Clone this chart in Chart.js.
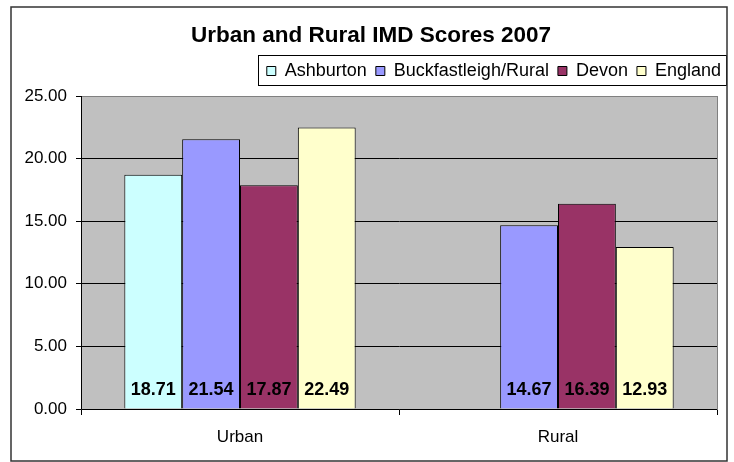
<!DOCTYPE html>
<html>
<head>
<meta charset="utf-8">
<script src="https://cdn.jsdelivr.net/npm/chart.js@4.4.0/dist/chart.umd.min.js"></script>
<style>
  html, body { margin: 0; padding: 0; background: #fff; }
  #wrap { width: 734px; height: 462px; }
</style>
</head>
<body>
<div id="wrap"><canvas id="mycanvas"></canvas></div>
<script>
var areas = ['Urban', 'Rural'];
var ashburton = [18.71, null];
var buckfastleigh = [21.54, 14.67];
var devon = [17.87, 16.39];
var england = [22.49, 12.93];
var yTicks = [0, 5, 10, 15, 20, 25];

Chart.defaults.font.family = "'Liberation Sans', Arial, sans-serif";
Chart.defaults.color = '#000';

// grey plot area, outer frame, legend box and value labels
var excelLook = {
  id: 'excelLook',
  beforeDraw: function(chart) {
    var c = chart.ctx, a = chart.chartArea;
    c.save();
    c.fillStyle = '#fff';
    c.fillRect(0, 0, chart.width, chart.height);
    c.fillStyle = '#c0c0c0';
    c.fillRect(a.left, a.top, a.right - a.left, a.bottom - a.top);
    c.restore();
  },
  beforeDatasetsDraw: function(chart) {
    var c = chart.ctx, a = chart.chartArea;
    c.save();
    c.strokeStyle = '#808080';
    c.lineWidth = 1;
    c.strokeRect(a.left + 0.5, a.top + 0.5, a.right - a.left, a.bottom - a.top);
    c.strokeStyle = '#000';
    c.beginPath();
    c.moveTo(a.left + 0.5, a.top);
    c.lineTo(a.left + 0.5, a.bottom + 0.5);
    c.lineTo(a.right, a.bottom + 0.5);
    c.stroke();
    c.restore();
  },
  afterDatasetsDraw: function(chart) {
    var c = chart.ctx;
    var base = chart.scales.y.getPixelForValue(0);
    c.save();
    c.font = "bold 18px 'Liberation Sans', Arial, sans-serif";
    c.fillStyle = '#000';
    c.textAlign = 'center';
    c.textBaseline = 'middle';
    chart.data.datasets.forEach(function(ds, i) {
      var meta = chart.getDatasetMeta(i);
      meta.data.forEach(function(bar, j) {
        var v = ds.data[j];
        if (v === null) return;
        c.fillText(v.toFixed(2), bar.x, base - 19);
      });
    });
    c.restore();
  },
  afterDraw: function(chart) {
    var c = chart.ctx;
    var hb = chart.legend.legendHitBoxes;
    var first = hb[0];
    var cy = Math.round(first.top + first.height / 2);
    var left = Math.round(first.left) - 8.5;
    c.save();
    c.strokeStyle = '#000';
    c.lineWidth = 1;
    c.strokeRect(left, cy - 15.5, 726.5 - left, 30);
    c.strokeStyle = '#333';
    c.lineWidth = 1.5;
    c.strokeRect(11, 7, 716, 454);
    c.restore();
  }
};

var chartdata = {
  labels: areas,
  datasets: [
    { label: 'Ashburton', data: ashburton, backgroundColor: '#ccffff', borderColor: '#000', borderWidth: 1 },
    { label: 'Buckfastleigh/Rural', data: buckfastleigh, backgroundColor: '#9999ff', borderColor: '#000', borderWidth: 1 },
    { label: 'Devon', data: devon, backgroundColor: '#993366', borderColor: '#000', borderWidth: 1 },
    { label: 'England', data: england, backgroundColor: '#ffffcc', borderColor: '#000', borderWidth: 1 }
  ]
};

var ctx = document.getElementById('mycanvas');

var myBarChart = new Chart(ctx, {
  type: 'bar',
  data: chartdata,
  plugins: [excelLook],
  options: {
    responsive: true,
    maintainAspectRatio: false,
    animation: false,
    datasets: {
      bar: { categoryPercentage: 0.7275, barPercentage: 1 }
    },
    layout: { padding: { top: 8, left: 12, right: 4, bottom: 13 } },
    plugins: {
      title: {
        display: true,
        text: 'Urban and Rural IMD Scores 2007',
        font: { size: 22.5, weight: 'bold' },
        padding: { top: 14, bottom: 4 }
      },
      subtitle: {
        display: true,
        text: '',
        weight: 100,
        font: { size: 1, lineHeight: 1 },
        padding: { top: 4, bottom: 1 }
      },
      legend: {
        position: 'top',
        align: 'end',
        labels: {
          boxWidth: 9,
          boxHeight: 9,
          padding: 9,
          font: { size: 18 },
          color: '#000'
        }
      },
      tooltip: { enabled: false }
    },
    scales: {
      x: {
        grid: { drawOnChartArea: false, color: '#000', tickLength: 6, offset: true },
        border: { color: '#000' },
        ticks: { font: { size: 17 }, padding: 12 },
        afterFit: function(s) { s.height = 40; }
      },
      y: {
        min: yTicks[0],
        max: yTicks[yTicks.length - 1],
        afterBuildTicks: function(s) {
          s.ticks = yTicks.map(function(v) { return { value: v }; });
        },
        grid: {
          color: function(c) { return c.tick && c.tick.value === yTicks[yTicks.length - 1] ? 'rgba(0,0,0,0)' : '#000'; },
          tickColor: '#000',
          tickLength: 5
        },
        border: { color: '#000' },
        ticks: {
          font: { size: 17 },
          padding: 9,
          callback: function(v) { return Number(v).toFixed(2); }
        },
        afterFit: function(s) { s.width = 69; }
      },
      y2: {
        type: 'linear',
        position: 'right',
        grid: { display: false },
        border: { display: false },
        ticks: { display: false },
        afterFit: function(s) { s.width = 13; }
      }
    }
  }
});
</script>
</body>
</html>
